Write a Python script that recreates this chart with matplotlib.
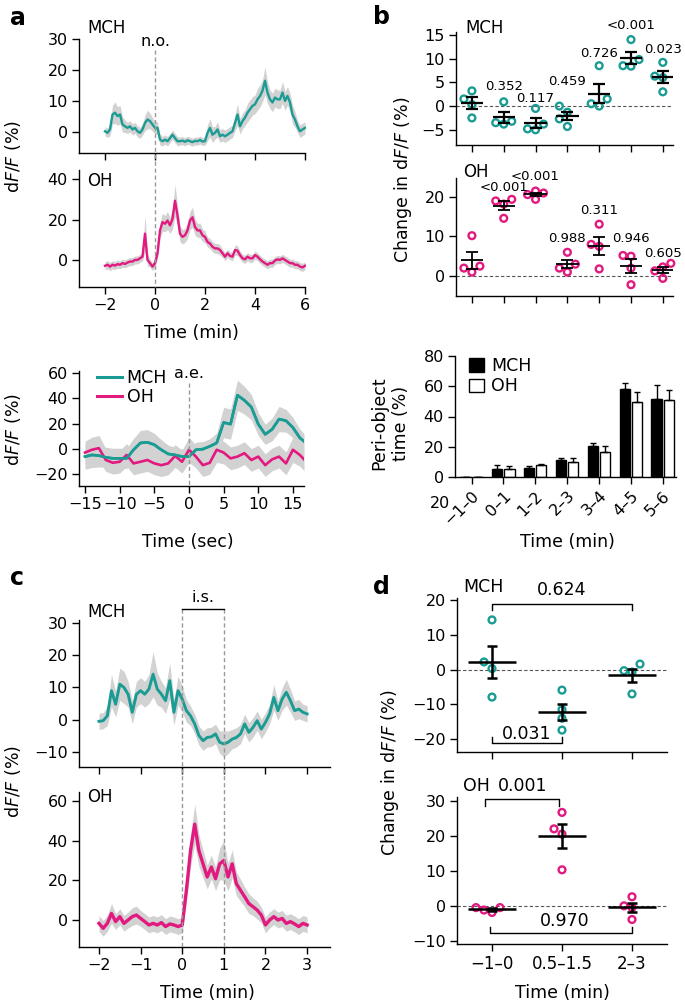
import numpy as np
import matplotlib
matplotlib.use("Agg")
import matplotlib.pyplot as plt
import matplotlib.transforms as mtransforms
from matplotlib.patches import Patch
from matplotlib.lines import Line2D

plt.rcParams['font.family'] = ['DejaVu Sans']
plt.rcParams['font.size'] = 11
plt.rcParams['axes.linewidth'] = 1.0

TEAL = "#1a9c94"
PINK = "#e2197f"
BAND = "#d2d2d2"

# ---------------- a: novel object (0.1-min bins)
a_time = np.round(np.arange(-2.0, 6.05, 0.1), 1)
a_mch = [0.2, -0.3, 0.8, 5.6, 6.2, 5.1, 5.6, 2.4, 1.8, 1.3,
         1.8, 0.8, 1.3, 0.2, -0.3, 0.8, 2.9, 4.0, 3.5, 2.4,
         1.3, 1.3, -2.5, -3.0, -2.5, -3.0, -2.0, -0.9, -2.0, -3.0,
         -3.0, -2.8, -3.2, -2.7, -3.0, -3.3, -2.9, -3.0, -2.6, -3.1,
         -3.0, -0.3, 1.3, -0.9, -0.3, 0.8, -1.4, -0.9, -1.4, -0.9,
         -0.3, 0.2, 2.9, 5.6, 1.8, 3.5, 4.6, 6.2, 7.3, 8.4,
         8.9, 10.5, 11.6, 13.3, 16.5, 12.7, 10.5, 9.5, 11.1, 10.5,
         10.5, 12.7, 10.0, 11.6, 9.5, 5.6, 4.0, 1.8, 0.2, 0.8,
         1.3]
a_mch_sem = [1.5, 1.5, 2.0, 3.0, 3.5, 3.0, 3.0, 2.5, 2.0, 1.8,
             1.8, 1.8, 1.8, 1.8, 1.8, 1.8, 2.5, 3.0, 2.5, 2.2,
             2.0, 2.0, 1.8, 1.5, 1.5, 1.5, 1.5, 1.5, 1.5, 1.5,
             1.3, 1.3, 1.3, 1.3, 1.3, 1.3, 1.3, 1.3, 1.3, 1.3,
             1.3, 2.5, 3.0, 2.5, 2.0, 2.5, 2.0, 2.0, 2.0, 2.0,
             2.0, 2.0, 2.5, 3.5, 2.5, 2.5, 2.5, 3.0, 3.0, 3.0,
             3.0, 3.5, 3.5, 3.5, 4.5, 3.5, 3.0, 3.0, 3.0, 3.0,
             3.0, 3.5, 3.0, 3.0, 3.0, 3.0, 2.5, 2.0, 2.0, 2.0,
             2.0]
a_oh = [-2.9, -2.4, -3.3, -2.4, -2.8, -2.1, -2.4, -1.6, -2.0, -1.3,
        -0.8, -0.8, 0.0, 0.0, 0.8, 1.6, 13.0, 0.0, -1.6, -3.3,
        -1.6, 3.3, 14.6, 18.7, 17.9, 19.5, 17.1, 20.3, 29.3, 22.0,
        13.0, 11.4, 12.2, 14.6, 19.5, 21.1, 16.3, 14.6, 14.6, 12.2,
        11.4, 8.9, 8.1, 6.5, 5.7, 5.7, 4.9, 3.3, 1.6, 3.3,
        2.0, 1.6, 4.9, 4.6, 2.4, 0.8, 0.3, 1.6, 0.8, 0.8,
        2.4, 1.6, 0.3, -0.8, -1.6, -2.4, -1.6, -1.6, -0.3, 0.3,
        0.0, 0.8, 0.0, -0.8, -1.6, -1.6, -2.4, -2.4, -3.3, -3.7,
        -2.9]
a_oh_sem = [2.0, 2.0, 2.0, 2.0, 2.0, 2.0, 2.0, 2.0, 2.0, 2.0,
            2.0, 2.0, 2.0, 2.0, 2.0, 2.0, 9.0, 3.0, 2.0, 2.0,
            2.0, 3.0, 4.0, 4.5, 4.0, 4.5, 4.0, 5.0, 8.0, 5.0,
            4.0, 3.5, 3.5, 4.0, 4.5, 5.0, 4.0, 3.5, 3.5, 3.0,
            3.0, 2.5, 2.5, 2.5, 2.5, 2.5, 2.5, 2.0, 2.0, 2.0,
            2.0, 2.0, 2.5, 2.5, 2.0, 2.0, 2.0, 2.0, 2.0, 2.0,
            2.0, 2.0, 2.0, 2.0, 2.0, 2.0, 2.0, 2.0, 2.0, 2.0,
            2.0, 2.0, 2.0, 2.0, 2.0, 2.0, 2.0, 2.0, 2.0, 2.0,
            2.0]

# ---------------- a: approach events (1-s bins)
ae_time = [-15, -14, -13, -12, -11, -10, -9, -8, -7, -6, -5, -4, -3, -2, -1, 0,
           1, 2, 3, 4, 5, 6, 7, 8, 9, 10, 11, 12, 13, 14, 15, 16, 16.6]
ae_mch = [-6.2, -4.9, -5.4, -6.8, -7.6, -7.6, -7.6, -0.8, 4.6, 5.1, 3.2, -0.8, -4.1, -4.9, -6.2, -6.2,
          -0.8, -0.3, 1.9, 4.6, 20.8, 19.5, 42.4, 38.4, 33.0, 19.5, 11.4, 15.4, 23.5, 22.2, 16.8, 8.6, 5.9]
ae_mch_sem = [10, 10, 9, 8, 8, 8, 8, 9, 10, 10, 9, 8, 7, 6, 6, 6,
              6, 6, 6, 8, 12, 12, 12, 11, 10, 9, 8, 9, 10, 9, 8, 7, 6]
ae_oh = [-3.0, -0.8, 0.5, -8.9, -11.1, -10.3, -4.9, -11.6, -10.3, -8.9, -11.6, -13.0, -11.6, -5.7, -10.3, -0.8,
         -6.2, -13.0, -11.1, -0.8, -3.0, -7.6, -6.2, -3.5, -8.9, -6.2, -13.0, -8.4, -6.2, -11.6, -0.8, -4.9, -8.4]
ae_oh_sem = [9, 10, 10, 9, 9, 9, 9, 9, 9, 9, 9, 9, 9, 9, 9, 10,
             9, 9, 9, 10, 9, 9, 9, 9, 9, 9, 9, 9, 9, 9, 10, 9, 9]

# ---------------- b
b_bins = ["\u22121\u20130", "0\u20131", "1\u20132", "2\u20133", "3\u20134", "4\u20135", "5\u20136"]
b_mch_pts = [[3.2, 1.5, 0.3, -2.5], [0.9, -3.2, -3.5, -3.8], [-0.5, -3.8, -4.8, -5.0],
             [0.0, -1.3, -2.7, -4.3], [8.5, 1.5, 0.5, 0.0], [14.0, 9.8, 8.5, 8.4], [9.2, 6.3, 6.0, 3.0]]
b_mch_p = ["", "0.352", "0.117", "0.459", "0.726", "<0.001", "0.023"]
b_mch_p_y = [0, 4.2, 1.5, 5.2, 11.1, 17.0, 12.0]
b_oh_pts = [[10.2, 2.5, 2.0, 1.0], [19.4, 19.0, 18.2, 14.6], [21.5, 21.0, 20.6, 19.4],
            [6.0, 3.0, 2.0, 1.0], [13.1, 8.0, 7.5, 1.8], [5.2, 5.0, 2.0, -2.2], [3.2, 2.3, 1.3, -0.6]]
b_oh_p = ["", "<0.001", "<0.001", "0.988", "0.311", "0.946", "0.605"]
b_oh_p_y = [0, 22.3, 25.3, 9.4, 16.5, 9.4, 5.8]
peri_mch = [0, 5.5, 6.0, 11.0, 20.5, 58.0, 51.5]
peri_mch_err = [0, 2.7, 1.3, 1.6, 1.8, 4.0, 9.3]
peri_oh = [0, 5.5, 7.7, 10.2, 16.4, 49.9, 50.8]
peri_oh_err = [0, 1.8, 1.1, 2.6, 4.1, 6.5, 6.7]

# ---------------- c: inanimate stimulus (0.1-min bins)
c_time = np.round(np.arange(-2.0, 3.05, 0.1), 1)
c_mch = [-0.5, -0.3, 1.2, 9.0, 4.8, 11.0, 10.0, 7.9, 2.3, 7.9,
         9.0, 7.9, 9.5, 14.1, 9.5, 7.9, 5.9, 12.1, 2.3, 9.0,
         6.4, 2.8, 1.2, -1.3, -4.9, -6.5, -5.5, -5.3, -4.4, -7.0,
         -7.5, -7.0, -6.0, -5.5, -4.4, -1.3, -3.9, -2.4, -0.3, -2.9,
         -0.8, 1.8, 6.9, 2.8, 6.4, 8.5, 5.9, 2.8, 3.3, 2.3,
         1.8]
c_mch_sem = [2.5, 2.5, 3.0, 5.0, 4.0, 5.0, 5.0, 4.0, 3.5, 4.0,
             4.0, 4.0, 4.5, 7.0, 5.0, 4.0, 4.0, 5.5, 4.0, 4.5,
             4.0, 3.5, 3.0, 3.0, 3.0, 3.0, 3.0, 3.0, 3.0, 3.5,
             4.0, 3.5, 3.0, 3.0, 3.0, 3.0, 3.0, 3.0, 3.0, 3.0,
             3.0, 3.0, 4.0, 3.0, 3.5, 4.0, 3.5, 3.0, 3.0, 2.5,
             2.5]
c_oh = [-1.7, -4.2, -1.7, 3.3, -0.8, 1.7, -1.7, 0.0, 1.7, 2.5,
        0.8, -0.8, -2.5, -1.7, -2.5, -1.3, -3.3, -2.0, -2.5, -3.3,
        -2.5, 15.0, 35.0, 48.3, 35.0, 28.3, 21.7, 26.7, 20.8, 28.3,
        30.0, 21.7, 28.3, 18.3, 15.0, 11.7, 8.3, 6.7, 5.0, 2.5,
        -2.5, 0.0, 1.7, 0.0, 0.8, -1.7, -0.8, -2.0, -3.3, -1.7,
        -2.5]
c_oh_sem = [4.0, 4.0, 4.0, 5.0, 4.0, 4.0, 4.0, 4.0, 4.5, 4.5,
            4.0, 4.0, 4.0, 4.0, 4.0, 4.0, 4.0, 4.0, 4.0, 4.0,
            4.0, 6.0, 8.0, 10.0, 8.0, 7.0, 6.0, 6.0, 6.0, 8.0,
            10.0, 7.0, 7.0, 6.0, 5.5, 5.0, 5.0, 4.5, 4.5, 4.0,
            4.0, 4.0, 4.0, 4.0, 4.0, 4.0, 4.0, 4.0, 4.0, 4.0,
            4.0]

# ---------------- d
d_bins = ["\u22121\u20130", "0.5\u20131.5", "2\u20133"]
d_mch_pts = [[14.3, 2.2, 0.3, -7.9], [-5.9, -11.5, -14.0, -17.4], [1.6, -0.3, -0.7, -7.0]]
d_oh_pts = [[-0.5, -1.9, -1.2, -0.5], [26.7, 22.0, 20.5, 10.3], [2.6, 0.0, -0.5, -3.9]]

# ================= layout helpers (pixel boxes)
W, H = 685, 1006
fig = plt.figure(figsize=(W / 100, H / 100), dpi=100)


def px_axes(left, top, right, bottom):
    ax = fig.add_axes([left / W, 1 - bottom / H, (right - left) / W, (bottom - top) / H])
    ax.spines['top'].set_visible(False)
    ax.spines['right'].set_visible(False)
    ax.tick_params(direction='out', length=5, width=1.0, labelsize=11.5, pad=3)
    ax.patch.set_alpha(0)
    return ax


def ftext(x, y, s, **kw):
    kw.setdefault('ha', 'left')
    kw.setdefault('va', 'center')
    fig.text(x / W, 1 - y / H, s, **kw)


def vdash(ax, x, y_top, y_bot):
    tr = mtransforms.blended_transform_factory(ax.transData, fig.transFigure)
    fig.add_artist(Line2D([x, x], [1 - y_top / H, 1 - y_bot / H], transform=tr,
                          color='#999999', lw=1.0, ls=(0, (3, 2))))


def trace(ax, t, y, sem, color, lw):
    t = np.asarray(t)
    y = np.asarray(y)
    sem = np.asarray(sem)
    ax.fill_between(t, y - sem, y + sem, color=BAND, lw=0)
    ax.plot(t, y, color=color, lw=lw)


def swarm(ax, center, vals, dpx=8.0):
    to_px = ax.transData
    x0 = to_px.transform((center, 0))[0]
    ys = np.array([to_px.transform((center, v))[1] for v in vals])
    placed = []
    xs = np.zeros(len(vals))
    for i in np.argsort(ys):
        for k in [0, -1, 1, -2, 2, -3, 3]:
            cx = x0 + k * dpx
            if all(np.hypot(cx - px, ys[i] - py) >= dpx for px, py in placed):
                break
        placed.append((cx, ys[i]))
        xs[i] = cx
    inv = to_px.inverted()
    return [inv.transform((x, 0))[0] for x in xs]


def dot_panel(ax, groups, color, hw, cap, lw=1.6):
    for i, vals in enumerate(groups):
        xs = swarm(ax, i, vals)
        ax.scatter(xs, vals, s=24, facecolors='none', edgecolors=color, linewidths=1.7,
                   zorder=2, clip_on=False)
        m = np.mean(vals)
        se = np.std(vals, ddof=1) / np.sqrt(len(vals))
        ax.hlines(m, i - hw, i + hw, color='k', lw=lw, zorder=3)
        ax.errorbar(i, m, yerr=se, fmt='none', ecolor='k', elinewidth=lw,
                    capsize=cap, capthick=lw, zorder=3)
    ax.axhline(0, color='#555555', lw=0.8, ls=(0, (3, 2)), zorder=1)


# ================= panel a
ax1 = px_axes(79, 33, 306, 153)
ax1.set_xlim(-3.04, 6.04)
ax1.set_ylim(-6.8, 31.9)
trace(ax1, a_time, a_mch, a_mch_sem, TEAL, 1.7)
ax1.set_yticks([0, 10, 20, 30])
ax1.set_xticks([-2, 0, 2, 4, 6])
ax1.set_xticklabels([])
ax1.spines['left'].set_bounds(-6.8, 30)

ax2 = px_axes(79, 170, 306, 287)
ax2.set_xlim(-3.04, 6.04)
ax2.set_ylim(-13.4, 44.5)
trace(ax2, a_time, a_oh, a_oh_sem, PINK, 1.7)
ax2.set_yticks([0, 20, 40])
ax2.set_xticks([-2, 0, 2, 4, 6])
ax2.set_xticklabels(["\u22122", "0", "2", "4", "6"])
ax2.spines['bottom'].set_bounds(-3.04, 6.0)
ax1.spines['bottom'].set_bounds(-3.04, 6.0)
vdash(ax1, 0, 50, 287)
ftext(87, 28, "MCH", fontsize=12)
ftext(87, 181, "OH", fontsize=12)
ftext(155, 42, "n.o.", fontsize=11.5, ha='center')
ftext(13, 157, r'd$F$/$F$ (%)', rotation=90, ha='center', fontsize=12.5)
ftext(191, 333, "Time (min)", ha='center', fontsize=12.5)

ax3 = px_axes(79, 371, 304, 486)
ax3.set_xlim(-15.87, 16.6)
ax3.set_ylim(-29.5, 61.6)
trace(ax3, ae_time, ae_mch, ae_mch_sem, TEAL, 1.9)
trace(ax3, ae_time, ae_oh, ae_oh_sem, PINK, 1.9)
# redraw MCH line above OH band
ax3.plot(ae_time, ae_mch, color=TEAL, lw=1.9)
ax3.set_yticks([-20, 0, 20, 40, 60])
ax3.set_xticks([-15, -10, -5, 0, 5, 10, 15])
ax3.set_xticklabels(["\u221215", "\u221210", "\u22125", "0", "5", "10", "15"])
ax3.legend(handles=[Line2D([], [], color=TEAL, lw=2.2), Line2D([], [], color=PINK, lw=2.2)],
           labels=["MCH", "OH"], loc='upper left', bbox_to_anchor=(0.05, 1.08),
           frameon=False, fontsize=12.5, handlelength=1.4, handletextpad=0.3,
           labelspacing=0.1, borderaxespad=0)
vdash(ax3, 0, 383, 486)
ftext(189, 373, "a.e.", ha='center', fontsize=11.5)
ftext(13, 430, r'd$F$/$F$ (%)', rotation=90, ha='center', fontsize=12.5)
ftext(188, 542, "Time (sec)", ha='center', fontsize=12.5)

# ================= panel b
bx1 = px_axes(456, 32, 673, 145)
bx1.set_xlim(-0.5, 6.32)
bx1.set_ylim(-8.2, 15.6)
dot_panel(bx1, b_mch_pts, TEAL, 0.35, 4)
for i, (s, y) in enumerate(zip(b_mch_p, b_mch_p_y)):
    if s:
        bx1.text(i, y, s, ha='center', va='center', fontsize=9.5, clip_on=False)
bx1.set_yticks([-5, 0, 5, 10, 15])
bx1.set_xticks(range(7))
bx1.set_xticklabels([])

bx2 = px_axes(456, 178, 673, 296)
bx2.set_xlim(-0.5, 6.32)
bx2.set_ylim(-5.06, 24.8)
dot_panel(bx2, b_oh_pts, PINK, 0.35, 4, lw=1.3)
for i, (s, y) in enumerate(zip(b_oh_p, b_oh_p_y)):
    if s:
        bx2.text(i, y, s, ha='center', va='center', fontsize=9.5, clip_on=False)
bx2.set_yticks([0, 10, 20])
bx2.set_xticks(range(7))
bx2.set_xticklabels([])
ftext(465, 28, "MCH", fontsize=12)
ftext(463, 172, "OH", fontsize=12)
ftext(403, 180, r'Change in d$F$/$F$ (%)', rotation=90, ha='center', fontsize=12.5)

bx3 = px_axes(455, 356, 676, 477)
bx3.set_xlim(-0.52, 6.42)
bx3.set_ylim(0, 80)
pos = np.arange(len(b_bins))
bx3.bar(pos - 0.19, peri_mch, width=0.32, color='k', edgecolor='k', lw=1.0,
        yerr=[np.zeros(7), peri_mch_err], error_kw=dict(elinewidth=1.0, capsize=2.5, capthick=1.0))
bx3.bar(pos + 0.19, peri_oh, width=0.32, color='white', edgecolor='k', lw=1.0,
        yerr=[np.zeros(7), peri_oh_err], error_kw=dict(elinewidth=1.0, capsize=2.5, capthick=1.0))
bx3.set_yticks([0, 20, 40, 60, 80])
bx3.set_xticks(pos)
bx3.set_xticklabels(b_bins, rotation=45, ha='right', rotation_mode='anchor', fontsize=11.5)
bx3.legend(handles=[Patch(facecolor='k', edgecolor='k'), Patch(facecolor='white', edgecolor='k')],
           labels=["MCH", "OH"], loc='upper left', bbox_to_anchor=(0.03, 1.05), frameon=False,
           fontsize=12.5, handlelength=0.9, handleheight=0.8, handletextpad=0.4,
           labelspacing=0.15, borderaxespad=0)
ftext(390, 423, "Peri-object\ntime (%)", rotation=90, ha='center', fontsize=12.5,
      multialignment='center', linespacing=1.25)
ftext(440, 503, "20", ha='center', fontsize=11.5)
ftext(567, 542, "Time (min)", ha='center', fontsize=12.5)

# ================= panel c
cx1 = px_axes(79, 620, 330, 767)
cx1.set_xlim(-2.48, 3.55)
cx1.set_ylim(-14.65, 30.9)
trace(cx1, c_time, c_mch, c_mch_sem, TEAL, 2.1)
cx1.set_yticks([-10, 0, 10, 20, 30])
cx1.set_xticks([-2, -1, 0, 1, 2, 3])
cx1.set_xticklabels([])

cx2 = px_axes(79, 792, 330, 947)
cx2.set_xlim(-2.48, 3.55)
cx2.set_ylim(-13.6, 64.5)
trace(cx2, c_time, c_oh, c_oh_sem, PINK, 2.4)
cx2.set_yticks([0, 20, 40, 60])
cx2.set_xticks([-2, -1, 0, 1, 2, 3])
cx2.set_xticklabels(["\u22122", "\u22121", "0", "1", "2", "3"])
vdash(cx1, 0, 609, 947)
vdash(cx1, 1, 609, 947)
tr = mtransforms.blended_transform_factory(cx1.transData, fig.transFigure)
fig.add_artist(Line2D([0, 1], [1 - 609 / H, 1 - 609 / H], transform=tr, color='k', lw=1.0))
ftext(203, 597, "i.s.", ha='center', fontsize=11.5)
ftext(87, 612, "MCH", fontsize=12)
ftext(87, 797, "OH", fontsize=12)
ftext(13, 782, r'd$F$/$F$ (%)', rotation=90, ha='center', fontsize=12.5)
ftext(207, 993, "Time (min)", ha='center', fontsize=12.5)

# ================= panel d
dx1 = px_axes(457, 598, 667, 752)
dx1.set_xlim(-0.5, 2.5)
dx1.set_ylim(-23.7, 20.6)
dot_panel(dx1, d_mch_pts, TEAL, 0.34, 3.5, lw=1.8)
dx1.set_yticks([-20, -10, 0, 10, 20])
dx1.set_xticks([0, 1, 2])
dx1.set_xticklabels([])
dx1.plot([0, 0, 2, 2], [17.2, 18.9, 18.9, 17.2], color='k', lw=1.0, clip_on=False)
dx1.text(1, 22.9, "0.624", ha='center', va='center', fontsize=12.5, clip_on=False)
dx1.plot([0, 0, 1, 1], [-19.5, -21.2, -21.2, -19.5], color='k', lw=1.0, clip_on=False)
dx1.text(0.5, -18.4, "0.031", ha='center', va='center', fontsize=12.5, clip_on=False)

dx2 = px_axes(457, 797, 667, 944)
dx2.set_xlim(-0.5, 2.5)
dx2.set_ylim(-10.9, 31.1)
dot_panel(dx2, d_oh_pts, PINK, 0.34, 3.5, lw=1.8)
dx2.set_yticks([-10, 0, 10, 20, 30])
dx2.set_xticks([0, 1, 2])
dx2.set_xticklabels(d_bins, fontsize=12)
dx2.plot([-0.1, -0.1, 0.96, 0.96], [28.4, 30.6, 30.6, 28.4], color='k', lw=1.0, clip_on=False)
dx2.plot([-0.03, -0.03, 2.0, 2.0], [-6.0, -7.7, -7.7, -6.0], color='k', lw=1.0, clip_on=False)
dx2.text(1.04, -4.3, "0.970", ha='center', va='center', fontsize=12.5, clip_on=False)
ftext(463, 587, "MCH", fontsize=12.5)
ftext(463, 786, "OH", fontsize=12.5)
ftext(523, 786, "0.001", ha='center', fontsize=12.5)
ftext(390, 773, r'Change in d$F$/$F$ (%)', rotation=90, ha='center', fontsize=12.5)
ftext(562, 993, "Time (min)", ha='center', fontsize=12.5)

# panel letters
for x, y, s in [(10, 18, "a"), (373, 17, "b"), (10, 578, "c"), (373, 587, "d")]:
    ftext(x, y, s, fontsize=17, fontweight='bold')

fig.savefig("out.png", dpi=100)
